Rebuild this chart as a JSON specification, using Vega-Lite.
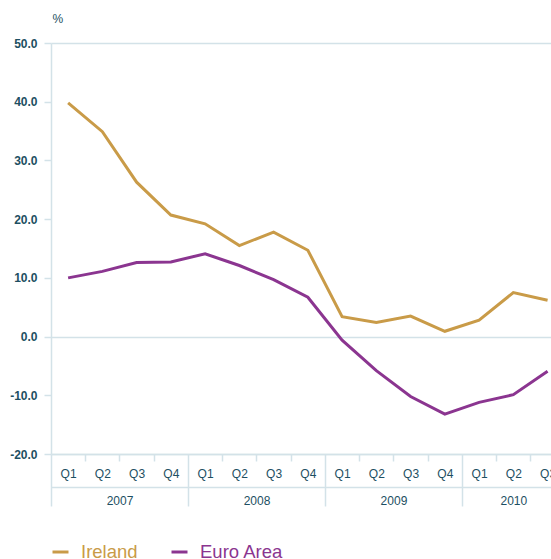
{
  "$schema": "https://vega.github.io/schema/vega-lite/v6.json",
  "width": 500,
  "height": 411,
  "autosize": {"type": "none"},
  "padding": {"left": 51, "top": 43, "right": 0, "bottom": 105},
  "data": {
    "values": [
      {"quarter": "2007 Q1", "t": 0.5, "series": "Ireland", "value": 39.8},
      {"quarter": "2007 Q2", "t": 1.5, "series": "Ireland", "value": 34.9},
      {"quarter": "2007 Q3", "t": 2.5, "series": "Ireland", "value": 26.3},
      {"quarter": "2007 Q4", "t": 3.5, "series": "Ireland", "value": 20.7},
      {"quarter": "2008 Q1", "t": 4.5, "series": "Ireland", "value": 19.2},
      {"quarter": "2008 Q2", "t": 5.5, "series": "Ireland", "value": 15.5},
      {"quarter": "2008 Q3", "t": 6.5, "series": "Ireland", "value": 17.8},
      {"quarter": "2008 Q4", "t": 7.5, "series": "Ireland", "value": 14.7},
      {"quarter": "2009 Q1", "t": 8.5, "series": "Ireland", "value": 3.4},
      {"quarter": "2009 Q2", "t": 9.5, "series": "Ireland", "value": 2.4},
      {"quarter": "2009 Q3", "t": 10.5, "series": "Ireland", "value": 3.5},
      {"quarter": "2009 Q4", "t": 11.5, "series": "Ireland", "value": 0.9},
      {"quarter": "2010 Q1", "t": 12.5, "series": "Ireland", "value": 2.8},
      {"quarter": "2010 Q2", "t": 13.5, "series": "Ireland", "value": 7.5},
      {"quarter": "2010 Q3", "t": 14.5, "series": "Ireland", "value": 6.2},
      {"quarter": "2007 Q1", "t": 0.5, "series": "Euro Area", "value": 10.0},
      {"quarter": "2007 Q2", "t": 1.5, "series": "Euro Area", "value": 11.1},
      {"quarter": "2007 Q3", "t": 2.5, "series": "Euro Area", "value": 12.6},
      {"quarter": "2007 Q4", "t": 3.5, "series": "Euro Area", "value": 12.7},
      {"quarter": "2008 Q1", "t": 4.5, "series": "Euro Area", "value": 14.1},
      {"quarter": "2008 Q2", "t": 5.5, "series": "Euro Area", "value": 12.1},
      {"quarter": "2008 Q3", "t": 6.5, "series": "Euro Area", "value": 9.7},
      {"quarter": "2008 Q4", "t": 7.5, "series": "Euro Area", "value": 6.7},
      {"quarter": "2009 Q1", "t": 8.5, "series": "Euro Area", "value": -0.6},
      {"quarter": "2009 Q2", "t": 9.5, "series": "Euro Area", "value": -5.8},
      {"quarter": "2009 Q3", "t": 10.5, "series": "Euro Area", "value": -10.2},
      {"quarter": "2009 Q4", "t": 11.5, "series": "Euro Area", "value": -13.2},
      {"quarter": "2010 Q1", "t": 12.5, "series": "Euro Area", "value": -11.2},
      {"quarter": "2010 Q2", "t": 13.5, "series": "Euro Area", "value": -9.9},
      {"quarter": "2010 Q3", "t": 14.5, "series": "Euro Area", "value": -5.9}
    ]
  },
  "config": {
    "view": {"stroke": null},
    "font": "Liberation Sans"
  },
  "encoding": {
    "y": {
      "field": "value",
      "type": "quantitative",
      "scale": {"domain": [-20, 50], "nice": false, "zero": false},
      "axis": {
        "title": "%",
        "titleAngle": 0,
        "titleAlign": "left",
        "titleBaseline": "middle",
        "titleX": 1,
        "titleY": -25,
        "titleFontSize": 12,
        "titleFontWeight": "normal",
        "titleColor": "#1d4f62",
        "values": [-20, -10, 0, 10, 20, 30, 40, 50],
        "labelExpr": "replace(format(datum.value, '.1f'), '\u2212', '-')",
        "labelFontSize": 12,
        "labelFontWeight": "bold",
        "labelColor": "#1d4f62",
        "labelPadding": 7,
        "tickSize": 7,
        "tickColor": "#d3e2e8",
        "tickWidth": 1.5,
        "domainColor": "#d3e2e8",
        "domainWidth": 1.5,
        "grid": true,
        "gridWidth": 1.5,
        "gridColor": {
          "condition": {"test": "datum.value == 50 || datum.value == 0 || datum.value == -20", "value": "#d3e2e8"},
          "value": "transparent"
        }
      }
    },
    "color": {
      "field": "series",
      "type": "nominal",
      "scale": {"domain": ["Ireland", "Euro Area"], "range": ["#c99b48", "#8b3590"]},
      "legend": {
        "title": null,
        "orient": "none",
        "legendX": 0,
        "legendY": 499.5,
        "direction": "horizontal",
        "symbolType": "stroke",
        "symbolSize": 256,
        "symbolStrokeWidth": 3,
        "labelFontSize": 18.5,
        "labelOffset": 11,
        "columnPadding": 27,
        "labelLimit": 300,
        "labelColor": {"expr": "datum.label == 'Ireland' ? '#c99b48' : '#8b3590'"}
      }
    }
  },
  "layer": [
    {
      "transform": [{"filter": "datum.series == 'Ireland'"}],
      "mark": {"type": "line", "strokeWidth": 3},
      "encoding": {
        "x": {
          "field": "t",
          "type": "quantitative",
          "scale": {"domain": [0, 14.6], "nice": false, "zero": false},
          "axis": {
            "orient": "bottom",
            "title": null,
            "grid": false,
            "values": [0, 1, 2, 3, 4, 5, 6, 7, 8, 9, 10, 11, 12, 13, 14, 13.5],
            "domain": true,
            "domainColor": "#d3e2e8",
            "domainWidth": 1.5,
            "ticks": true,
            "tickColor": "#d3e2e8",
            "tickWidth": 1.5,
            "tickSize": {"condition": {"test": "datum.value % 4 == 0", "value": 52}, "value": 7},
            "tickOpacity": {"condition": {"test": "datum.value % 1 != 0", "value": 0}, "value": 1},
            "labelExpr": "datum.value == 2 ? '2007' : datum.value == 6 ? '2008' : datum.value == 10 ? '2009' : datum.value == 13.5 ? '2010' : ''",
            "labelPadding": 34,
            "labelFontSize": 12,
            "labelColor": "#1d4f62",
            "labelOverlap": false,
            "labelFlush": false,
            "labelBound": false
          }
        }
      }
    },
    {
      "transform": [{"filter": "datum.series == 'Euro Area'"}],
      "mark": {"type": "line", "strokeWidth": 3},
      "encoding": {
        "x": {
          "field": "t",
          "type": "quantitative",
          "scale": {"domain": [0, 14.6], "nice": false, "zero": false},
          "axis": {
            "orient": "bottom",
            "offset": 33,
            "title": null,
            "grid": false,
            "values": [0.5, 1.5, 2.5, 3.5, 4.5, 5.5, 6.5, 7.5, 8.5, 9.5, 10.5, 11.5, 12.5, 13.5, 14.5],
            "domain": true,
            "domainColor": "#d3e2e8",
            "domainWidth": 1.5,
            "ticks": false,
            "labelExpr": "'Q' + (floor(datum.value) % 4 + 1)",
            "labelPadding": -19,
            "labelFontSize": 12,
            "labelColor": "#1d4f62",
            "labelOverlap": false,
            "labelFlush": false,
            "labelBound": false
          }
        }
      }
    }
  ],
  "resolve": {"axis": {"x": "independent"}}
}
